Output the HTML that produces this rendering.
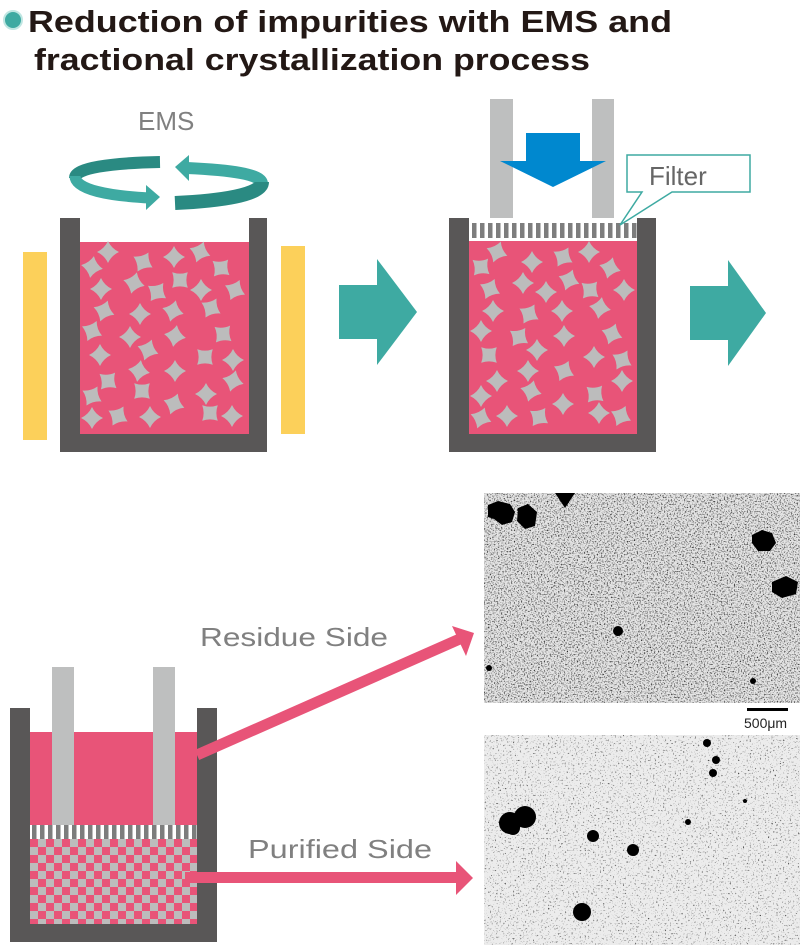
<!DOCTYPE html>
<html><head><meta charset="utf-8"><style>
html,body{margin:0;padding:0;background:#fff;}
svg{display:block;}
</style></head><body>
<svg width="800" height="948" viewBox="0 0 800 948" xmlns="http://www.w3.org/2000/svg">
<defs>
<pattern id="stripe" width="8" height="16" patternUnits="userSpaceOnUse"><rect width="8" height="16" fill="#fff"/><rect width="4.5" height="16" fill="#7d7d7d"/></pattern>
<pattern id="chk" x="30" y="839" width="16" height="16" patternUnits="userSpaceOnUse"><rect width="16" height="16" fill="#bcbcbc"/><rect width="8" height="8" fill="#e85478"/><rect x="8" y="8" width="8" height="8" fill="#e85478"/></pattern>
<filter id="n1" x="0" y="0" width="1" height="1"><feTurbulence type="fractalNoise" baseFrequency="0.7" numOctaves="2" seed="3"/><feColorMatrix type="matrix" values="0 0 0 0 0  0 0 0 0 0  0 0 0 0 0  0 0 0 -2.6 1.3"/></filter>
<filter id="n2" x="0" y="0" width="1" height="1"><feTurbulence type="fractalNoise" baseFrequency="0.6" numOctaves="2" seed="7"/><feColorMatrix type="matrix" values="0 0 0 0 0  0 0 0 0 0  0 0 0 0 0  0 0 0 -3 1.15"/></filter>
</defs>

<!-- Title -->
<circle cx="13" cy="20" r="9" fill="#3eaaa2" stroke="#bfe6e2" stroke-width="2"/>
<text x="28" y="32" font-family="Liberation Sans, sans-serif" font-weight="bold" font-size="31" fill="#231815" textLength="644" lengthAdjust="spacingAndGlyphs">Reduction of impurities with EMS and</text>
<text x="34" y="70" font-family="Liberation Sans, sans-serif" font-weight="bold" font-size="31" fill="#231815" textLength="556" lengthAdjust="spacingAndGlyphs">fractional crystallization process</text>

<!-- EMS -->
<text x="138" y="130" font-family="Liberation Sans, sans-serif" font-size="26" fill="#808080">EMS</text>
<path d="M160,162 C110,163 75,168 75,178" stroke="#2a8a82" stroke-width="12" fill="none"/>
<path d="M75,176 C75,190 110,196 150,198" stroke="#3eaaa2" stroke-width="11" fill="none"/>
<polygon points="146,185 160,197 146,210" fill="#3eaaa2"/>
<polygon points="189,155 175,167 189,181" fill="#3eaaa2"/>
<path d="M187,168 C230,170 262,174 262,184" stroke="#3eaaa2" stroke-width="12" fill="none"/>
<path d="M262,182 C262,195 220,201 175,203" stroke="#2a8a82" stroke-width="14" fill="none"/>

<!-- Crucible 1 -->
<rect x="23" y="252" width="24" height="188" fill="#fcd05a"/>
<rect x="281" y="246" width="24" height="188" fill="#fcd05a"/>
<rect x="60" y="218" width="207" height="234" fill="#595757"/>
<rect x="80" y="218" width="169" height="216" fill="#fff"/>
<rect x="80" y="242" width="169" height="192" fill="#e85478"/>
<g fill="#bcbcbc">
<path d="M108,241 Q111.5,248.5 119,252 Q111.5,255.5 108,263 Q104.5,255.5 97,252 Q104.5,248.5 108,241Z" transform="rotate(0 108 252)"/>
<path d="M92,256 Q95.5,263.5 103,267 Q95.5,270.5 92,278 Q88.5,270.5 81,267 Q88.5,263.5 92,256Z" transform="rotate(10 92 267)"/>
<path d="M143,251 Q146.5,258.5 154,262 Q146.5,265.5 143,273 Q139.5,265.5 132,262 Q139.5,258.5 143,251Z" transform="rotate(30 143 262)"/>
<path d="M174,246 Q177.5,253.5 185,257 Q177.5,260.5 174,268 Q170.5,260.5 163,257 Q170.5,253.5 174,246Z"/>
<path d="M200,241 Q203.5,248.5 211,252 Q203.5,255.5 200,263 Q196.5,255.5 189,252 Q196.5,248.5 200,241Z" transform="rotate(20 200 252)"/>
<path d="M221,257 Q224.5,264.5 232,268 Q224.5,271.5 221,279 Q217.5,271.5 210,268 Q217.5,264.5 221,257Z" transform="rotate(40 221 268)"/>
<path d="M101,278 Q104.5,285.5 112,289 Q104.5,292.5 101,300 Q97.5,292.5 90,289 Q97.5,285.5 101,278Z"/>
<path d="M134,272 Q137.5,279.5 145,283 Q137.5,286.5 134,294 Q130.5,286.5 123,283 Q130.5,279.5 134,272Z" transform="rotate(15 134 283)"/>
<path d="M157,281 Q160.5,288.5 168,292 Q160.5,295.5 157,303 Q153.5,295.5 146,292 Q153.5,288.5 157,281Z" transform="rotate(35 157 292)"/>
<path d="M180,269 Q183.5,276.5 191,280 Q183.5,283.5 180,291 Q176.5,283.5 169,280 Q176.5,276.5 180,269Z" transform="rotate(45 180 280)"/>
<path d="M201,279 Q204.5,286.5 212,290 Q204.5,293.5 201,301 Q197.5,293.5 190,290 Q197.5,286.5 201,279Z"/>
<path d="M235,279 Q238.5,286.5 246,290 Q238.5,293.5 235,301 Q231.5,293.5 224,290 Q231.5,286.5 235,279Z" transform="rotate(25 235 290)"/>
<path d="M104,300 Q107.5,307.5 115,311 Q107.5,314.5 104,322 Q100.5,314.5 93,311 Q100.5,307.5 104,300Z" transform="rotate(20 104 311)"/>
<path d="M140,303 Q143.5,310.5 151,314 Q143.5,317.5 140,325 Q136.5,317.5 129,314 Q136.5,310.5 140,303Z"/>
<path d="M173,300 Q176.5,307.5 184,311 Q176.5,314.5 173,322 Q169.5,314.5 162,311 Q169.5,307.5 173,300Z" transform="rotate(15 173 311)"/>
<path d="M211,297 Q214.5,304.5 222,308 Q214.5,311.5 211,319 Q207.5,311.5 200,308 Q207.5,304.5 211,297Z" transform="rotate(30 211 308)"/>
<path d="M92,320 Q95.5,327.5 103,331 Q95.5,334.5 92,342 Q88.5,334.5 81,331 Q88.5,327.5 92,320Z" transform="rotate(25 92 331)"/>
<path d="M130,326 Q133.5,333.5 141,337 Q133.5,340.5 130,348 Q126.5,340.5 119,337 Q126.5,333.5 130,326Z"/>
<path d="M175,325 Q178.5,332.5 186,336 Q178.5,339.5 175,347 Q171.5,339.5 164,336 Q171.5,332.5 175,325Z" transform="rotate(10 175 336)"/>
<path d="M223,323 Q226.5,330.5 234,334 Q226.5,337.5 223,345 Q219.5,337.5 212,334 Q219.5,330.5 223,323Z" transform="rotate(40 223 334)"/>
<path d="M100,344 Q103.5,351.5 111,355 Q103.5,358.5 100,366 Q96.5,358.5 89,355 Q96.5,351.5 100,344Z"/>
<path d="M148,339 Q151.5,346.5 159,350 Q151.5,353.5 148,361 Q144.5,353.5 137,350 Q144.5,346.5 148,339Z" transform="rotate(20 148 350)"/>
<path d="M205,346 Q208.5,353.5 216,357 Q208.5,360.5 205,368 Q201.5,360.5 194,357 Q201.5,353.5 205,346Z" transform="rotate(45 205 357)"/>
<path d="M233,349 Q236.5,356.5 244,360 Q236.5,363.5 233,371 Q229.5,363.5 222,360 Q229.5,356.5 233,349Z"/>
<path d="M139,360 Q142.5,367.5 150,371 Q142.5,374.5 139,382 Q135.5,374.5 128,371 Q135.5,367.5 139,360Z" transform="rotate(10 139 371)"/>
<path d="M175,360 Q178.5,367.5 186,371 Q178.5,374.5 175,382 Q171.5,374.5 164,371 Q171.5,367.5 175,360Z"/>
<path d="M108,370 Q111.5,377.5 119,381 Q111.5,384.5 108,392 Q104.5,384.5 97,381 Q104.5,377.5 108,370Z" transform="rotate(40 108 381)"/>
<path d="M233,370 Q236.5,377.5 244,381 Q236.5,384.5 233,392 Q229.5,384.5 222,381 Q229.5,377.5 233,370Z" transform="rotate(15 233 381)"/>
<path d="M92,385 Q95.5,392.5 103,396 Q95.5,399.5 92,407 Q88.5,399.5 81,396 Q88.5,392.5 92,385Z" transform="rotate(30 92 396)"/>
<path d="M142,380 Q145.5,387.5 153,391 Q145.5,394.5 142,402 Q138.5,394.5 131,391 Q138.5,387.5 142,380Z" transform="rotate(45 142 391)"/>
<path d="M206,383 Q209.5,390.5 217,394 Q209.5,397.5 206,405 Q202.5,397.5 195,394 Q202.5,390.5 206,383Z"/>
<path d="M174,393 Q177.5,400.5 185,404 Q177.5,407.5 174,415 Q170.5,407.5 163,404 Q170.5,400.5 174,393Z" transform="rotate(20 174 404)"/>
<path d="M92,407 Q95.5,414.5 103,418 Q95.5,421.5 92,429 Q88.5,421.5 81,418 Q88.5,414.5 92,407Z"/>
<path d="M118,405 Q121.5,412.5 129,416 Q121.5,419.5 118,427 Q114.5,419.5 107,416 Q114.5,412.5 118,405Z" transform="rotate(30 118 416)"/>
<path d="M150,406 Q153.5,413.5 161,417 Q153.5,420.5 150,428 Q146.5,420.5 139,417 Q146.5,413.5 150,406Z"/>
<path d="M210,402 Q213.5,409.5 221,413 Q213.5,416.5 210,424 Q206.5,416.5 199,413 Q206.5,409.5 210,402Z" transform="rotate(45 210 413)"/>
<path d="M232,405 Q235.5,412.5 243,416 Q235.5,419.5 232,427 Q228.5,419.5 221,416 Q228.5,412.5 232,405Z"/>
</g>

<!-- Arrow 1 -->
<rect x="339" y="285" width="39" height="54" fill="#3eaaa2"/>
<polygon points="377,259 417,312 377,365" fill="#3eaaa2"/>

<!-- Crucible 2 -->
<rect x="490" y="99" width="23" height="126" fill="#bebfbf"/>
<rect x="592" y="99" width="22" height="126" fill="#bebfbf"/>
<rect x="526" y="133" width="54" height="30" fill="#0088cf"/>
<polygon points="500,161 606,161 553,187" fill="#0088cf"/>
<rect x="449" y="218" width="207" height="234" fill="#595757"/>
<rect x="469" y="218" width="168" height="216" fill="#fff"/>
<rect x="469" y="223" width="168" height="15" fill="url(#stripe)"/>
<rect x="469" y="241" width="168" height="193" fill="#e85478"/>
<g fill="#bcbcbc" transform="translate(389 0)">
<path d="M108,241 Q111.5,248.5 119,252 Q111.5,255.5 108,263 Q104.5,255.5 97,252 Q104.5,248.5 108,241Z" transform="rotate(20 108 252)"/>
<path d="M92,256 Q95.5,263.5 103,267 Q95.5,270.5 92,278 Q88.5,270.5 81,267 Q88.5,263.5 92,256Z" transform="rotate(40 92 267)"/>
<path d="M143,251 Q146.5,258.5 154,262 Q146.5,265.5 143,273 Q139.5,265.5 132,262 Q139.5,258.5 143,251Z"/>
<path d="M174,246 Q177.5,253.5 185,257 Q177.5,260.5 174,268 Q170.5,260.5 163,257 Q170.5,253.5 174,246Z" transform="rotate(30 174 257)"/>
<path d="M200,241 Q203.5,248.5 211,252 Q203.5,255.5 200,263 Q196.5,255.5 189,252 Q196.5,248.5 200,241Z"/>
<path d="M221,257 Q224.5,264.5 232,268 Q224.5,271.5 221,279 Q217.5,271.5 210,268 Q217.5,264.5 221,257Z" transform="rotate(15 221 268)"/>
<path d="M101,278 Q104.5,285.5 112,289 Q104.5,292.5 101,300 Q97.5,292.5 90,289 Q97.5,285.5 101,278Z" transform="rotate(25 101 289)"/>
<path d="M134,272 Q137.5,279.5 145,283 Q137.5,286.5 134,294 Q130.5,286.5 123,283 Q130.5,279.5 134,272Z"/>
<path d="M157,281 Q160.5,288.5 168,292 Q160.5,295.5 157,303 Q153.5,295.5 146,292 Q153.5,288.5 157,281Z"/>
<path d="M180,269 Q183.5,276.5 191,280 Q183.5,283.5 180,291 Q176.5,283.5 169,280 Q176.5,276.5 180,269Z" transform="rotate(20 180 280)"/>
<path d="M201,279 Q204.5,286.5 212,290 Q204.5,293.5 201,301 Q197.5,293.5 190,290 Q197.5,286.5 201,279Z" transform="rotate(40 201 290)"/>
<path d="M235,279 Q238.5,286.5 246,290 Q238.5,293.5 235,301 Q231.5,293.5 224,290 Q231.5,286.5 235,279Z"/>
<path d="M104,300 Q107.5,307.5 115,311 Q107.5,314.5 104,322 Q100.5,314.5 93,311 Q100.5,307.5 104,300Z"/>
<path d="M140,303 Q143.5,310.5 151,314 Q143.5,317.5 140,325 Q136.5,317.5 129,314 Q136.5,310.5 140,303Z" transform="rotate(30 140 314)"/>
<path d="M173,300 Q176.5,307.5 184,311 Q176.5,314.5 173,322 Q169.5,314.5 162,311 Q169.5,307.5 173,300Z"/>
<path d="M211,297 Q214.5,304.5 222,308 Q214.5,311.5 211,319 Q207.5,311.5 200,308 Q207.5,304.5 211,297Z" transform="rotate(10 211 308)"/>
<path d="M92,320 Q95.5,327.5 103,331 Q95.5,334.5 92,342 Q88.5,334.5 81,331 Q88.5,327.5 92,320Z"/>
<path d="M130,326 Q133.5,333.5 141,337 Q133.5,340.5 130,348 Q126.5,340.5 119,337 Q126.5,333.5 130,326Z" transform="rotate(35 130 337)"/>
<path d="M175,325 Q178.5,332.5 186,336 Q178.5,339.5 175,347 Q171.5,339.5 164,336 Q171.5,332.5 175,325Z"/>
<path d="M223,323 Q226.5,330.5 234,334 Q226.5,337.5 223,345 Q219.5,337.5 212,334 Q219.5,330.5 223,323Z" transform="rotate(20 223 334)"/>
<path d="M100,344 Q103.5,351.5 111,355 Q103.5,358.5 100,366 Q96.5,358.5 89,355 Q96.5,351.5 100,344Z" transform="rotate(45 100 355)"/>
<path d="M148,339 Q151.5,346.5 159,350 Q151.5,353.5 148,361 Q144.5,353.5 137,350 Q144.5,346.5 148,339Z"/>
<path d="M205,346 Q208.5,353.5 216,357 Q208.5,360.5 205,368 Q201.5,360.5 194,357 Q201.5,353.5 205,346Z"/>
<path d="M233,349 Q236.5,356.5 244,360 Q236.5,363.5 233,371 Q229.5,363.5 222,360 Q229.5,356.5 233,349Z" transform="rotate(30 233 360)"/>
<path d="M139,360 Q142.5,367.5 150,371 Q142.5,374.5 139,382 Q135.5,374.5 128,371 Q135.5,367.5 139,360Z"/>
<path d="M175,360 Q178.5,367.5 186,371 Q178.5,374.5 175,382 Q171.5,374.5 164,371 Q171.5,367.5 175,360Z" transform="rotate(25 175 371)"/>
<path d="M108,370 Q111.5,377.5 119,381 Q111.5,384.5 108,392 Q104.5,384.5 97,381 Q104.5,377.5 108,370Z"/>
<path d="M233,370 Q236.5,377.5 244,381 Q236.5,384.5 233,392 Q229.5,384.5 222,381 Q229.5,377.5 233,370Z"/>
<path d="M92,385 Q95.5,392.5 103,396 Q95.5,399.5 92,407 Q88.5,399.5 81,396 Q88.5,392.5 92,385Z"/>
<path d="M142,380 Q145.5,387.5 153,391 Q145.5,394.5 142,402 Q138.5,394.5 131,391 Q138.5,387.5 142,380Z" transform="rotate(15 142 391)"/>
<path d="M206,383 Q209.5,390.5 217,394 Q209.5,397.5 206,405 Q202.5,397.5 195,394 Q202.5,390.5 206,383Z" transform="rotate(40 206 394)"/>
<path d="M174,393 Q177.5,400.5 185,404 Q177.5,407.5 174,415 Q170.5,407.5 163,404 Q170.5,400.5 174,393Z"/>
<path d="M92,407 Q95.5,414.5 103,418 Q95.5,421.5 92,429 Q88.5,421.5 81,418 Q88.5,414.5 92,407Z" transform="rotate(20 92 418)"/>
<path d="M118,405 Q121.5,412.5 129,416 Q121.5,419.5 118,427 Q114.5,419.5 107,416 Q114.5,412.5 118,405Z"/>
<path d="M150,406 Q153.5,413.5 161,417 Q153.5,420.5 150,428 Q146.5,420.5 139,417 Q146.5,413.5 150,406Z" transform="rotate(35 150 417)"/>
<path d="M210,402 Q213.5,409.5 221,413 Q213.5,416.5 210,424 Q206.5,416.5 199,413 Q206.5,409.5 210,402Z"/>
<path d="M232,405 Q235.5,412.5 243,416 Q235.5,419.5 232,427 Q228.5,419.5 221,416 Q228.5,412.5 232,405Z" transform="rotate(25 232 416)"/>
</g>
<!-- Filter callout -->
<path d="M627,155 L750,155 L750,192 L672,192 L620,225 L642,192 L627,192 Z" fill="#fff" stroke="#3eaaa2" stroke-width="1.5"/>
<text x="649" y="185" font-family="Liberation Sans, sans-serif" font-size="26" fill="#666">Filter</text>

<!-- Arrow 2 -->
<rect x="690" y="286" width="39" height="54" fill="#3eaaa2"/>
<polygon points="728,260 766,313 728,366" fill="#3eaaa2"/>

<!-- Bottom crucible -->
<rect x="10" y="708" width="207" height="234" fill="#595757"/>
<rect x="30" y="708" width="167" height="216" fill="#fff"/>
<rect x="30" y="732" width="167" height="93" fill="#e85478"/>
<rect x="30" y="825" width="167" height="14" fill="url(#stripe)"/>
<rect x="30" y="839" width="167" height="85" fill="url(#chk)"/>
<rect x="52" y="667" width="22" height="158" fill="#bebfbf"/>
<rect x="153" y="667" width="22" height="158" fill="#bebfbf"/>

<!-- Pink arrows -->
<line x1="197" y1="755" x2="462" y2="638" stroke="#e85478" stroke-width="11"/>
<polygon points="452,626 474,633 466,656" fill="#e85478"/>
<rect x="185" y="872" width="275" height="11" fill="#e85478"/>
<polygon points="456,861 473,878 456,895" fill="#e85478"/>
<text x="200" y="646" font-family="Liberation Sans, sans-serif" font-size="26" fill="#808080" textLength="188" lengthAdjust="spacingAndGlyphs">Residue Side</text>
<text x="248" y="858" font-family="Liberation Sans, sans-serif" font-size="26" fill="#808080" textLength="184" lengthAdjust="spacingAndGlyphs">Purified Side</text>

<!-- Micrographs -->
<rect x="484" y="493" width="316" height="210" fill="#e4e4e4"/>
<rect x="484" y="493" width="316" height="210" filter="url(#n1)"/>
<g fill="#000">
<path d="M488,505 l10,-4 12,3 5,8 -3,10 -10,3 -8,-6 -6,-2z"/>
<path d="M518,508 l10,-4 9,8 -2,14 -10,3 -8,-8z"/>
<path d="M555,493 l20,0 -10,15z"/>
<path d="M752,535 l10,-5 10,3 4,10 -6,8 -12,0 -6,-8z"/>
<path d="M772,582 l14,-6 12,6 -2,12 -14,4 -10,-6z"/>
<circle cx="618" cy="631" r="5"/><circle cx="489" cy="668" r="3"/><circle cx="753" cy="681" r="3"/>
</g>
<rect x="747" y="708" width="41" height="3" fill="#000"/>
<text x="744" y="728" font-family="Liberation Sans, sans-serif" font-size="14" fill="#222">500μm</text>
<rect x="484" y="735" width="316" height="210" fill="#ececec"/>
<rect x="484" y="735" width="316" height="210" filter="url(#n2)"/>
<g fill="#000">
<circle cx="510" cy="823" r="11"/><circle cx="525" cy="817" r="11"/><circle cx="513" cy="828" r="7"/>
<circle cx="593" cy="836" r="6"/><circle cx="633" cy="850" r="6"/><circle cx="582" cy="912" r="9"/>
<circle cx="707" cy="743" r="4"/><circle cx="716" cy="760" r="4"/><circle cx="713" cy="773" r="4"/>
<circle cx="745" cy="801" r="2"/><circle cx="688" cy="822" r="3"/>
</g>
</svg>
</body></html>
